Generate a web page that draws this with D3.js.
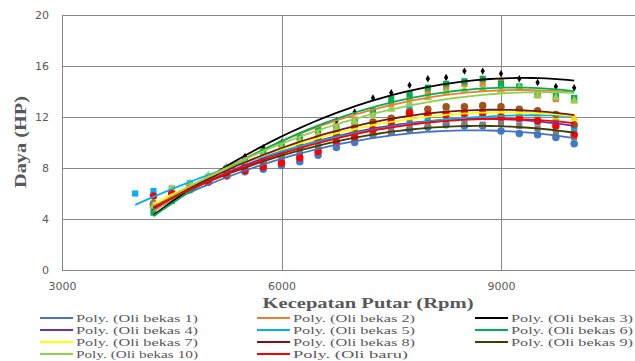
<!DOCTYPE html>
<html>
<head>
<meta charset="utf-8">
<script src="https://cdn.jsdelivr.net/npm/d3@7/dist/d3.min.js"></script>
<style>
  body { margin: 0; background: #fff; }
  svg { display: block; }
  .tick text { font-family: "DejaVu Sans", sans-serif; font-size: 11px; fill: #595959; }
</style>
</head>
<body>
<svg id="chart" width="635" height="361"></svg>
<script>
// data
const seriesNames = ["Oli bekas 1", "Oli bekas 2", "Oli bekas 3", "Oli bekas 4", "Oli bekas 5", "Oli bekas 6",
  "Oli bekas 7", "Oli bekas 8", "Oli bekas 9", "Oli bekas 10", "Oli baru"];

const rpm = [4250, 4500, 4750, 5000, 5250, 5500, 5750, 6000, 6250, 6500, 6750, 7000,
  7250, 7500, 7750, 8000, 8250, 8500, 8750, 9000, 9250, 9500, 9750, 10000];
const rpmBekas5 = [4000, 4250, 4500, 4750, 5000, 5250, 5500, 5750, 6000, 6250, 6500, 6750, 7000,
  7250, 7500, 7750, 8000, 8250, 8500, 8750, 9000, 9250, 9500, 9750, 10000];

const dayaBekas1 = [5.0, 5.6, 6.3, 6.9, 7.4, 7.7, 7.9, 8.2, 8.5, 9.0, 9.6, 10.0, 10.6, 10.8, 11.0, 11.2, 11.4, 11.3, 11.3, 10.9, 10.7, 10.6, 10.4, 9.9];
const dayaBekas2 = [5.0, 5.8, 6.6, 7.3, 8.0, 8.6, 9.2, 9.7, 10.2, 10.8, 11.3, 11.8, 12.4, 13.0, 13.5, 13.9, 14.3, 14.6, 14.6, 14.8, 14.3, 13.7, 13.4, 13.3];
const dayaBekas3 = [4.8, 5.6, 6.5, 7.3, 8.1, 8.9, 9.6, 10.0, 10.4, 11.0, 11.7, 12.4, 13.5, 13.9, 14.5, 15.0, 15.1, 15.6, 15.6, 15.4, 15.0, 14.7, 14.4, 14.3];
const dayaBekas4 = [5.0, 5.7, 6.4, 7.0, 7.6, 8.1, 8.6, 9.1, 9.6, 10.0, 10.4, 10.8, 11.1, 11.4, 11.6, 11.8, 11.9, 12.0, 12.0, 11.9, 11.8, 11.6, 11.4, 11.1];
const dayaBekas5 = [6.0, 6.2, 6.4, 6.8, 7.2, 7.6, 8.0, 8.4, 8.8, 9.2, 9.6, 10.1, 10.5, 10.9, 11.6, 12.6, 12.0, 12.6, 12.3, 12.7, 12.2, 12.2, 11.9, 11.8, 11.1];
const dayaBekas6 = [4.5, 5.4, 6.4, 7.1, 7.9, 8.6, 9.3, 9.9, 10.4, 11.0, 11.0, 11.6, 12.5, 13.4, 13.8, 14.3, 14.6, 14.8, 15.0, 14.6, 14.4, 13.8, 13.7, 13.5];
const dayaBekas7 = [5.3, 6.4, 6.7, 7.2, 7.7, 8.2, 8.7, 9.2, 9.7, 10.2, 10.6, 11.0, 11.4, 11.8, 12.1, 12.3, 12.4, 12.5, 12.5, 12.4, 12.3, 12.2, 12.0, 11.9];
const dayaBekas8 = [5.2, 6.0, 6.6, 7.1, 7.7, 8.2, 8.7, 9.2, 9.7, 10.2, 10.7, 11.2, 11.6, 11.9, 12.4, 12.6, 12.8, 12.8, 12.9, 12.8, 12.6, 12.5, 12.2, 11.4];
const dayaBekas9 = [5.2, 5.7, 6.5, 7.0, 7.5, 7.9, 8.3, 8.7, 9.1, 9.5, 9.9, 10.3, 10.6, 10.9, 11.2, 11.4, 11.6, 11.5, 11.4, 11.5, 11.3, 11.1, 10.7, 10.4];
const dayaBekas10 = [5.0, 6.3, 6.8, 7.4, 8.0, 8.5, 9.0, 9.6, 10.1, 10.6, 11.1, 11.6, 12.1, 12.6, 13.1, 13.5, 13.9, 14.1, 14.2, 14.1, 14.3, 13.7, 13.5, 13.3];
const dayaBaru = [5.8, 6.0, 6.4, 6.9, 7.4, 7.8, 8.1, 8.4, 8.8, 9.3, 10.0, 10.4, 11.0, 11.6, 12.3, 12.2, 12.2, 12.3, 12.3, 12.0, 11.9, 11.7, 11.3, 10.6];

const xTicks = [3000, 6000, 9000];
const yTicks = [0, 4, 8, 12, 16, 20];

// styles
const lineColors = ["#4472C4", "#ED7D31", "#000000", "#7030A0", "#00B0F0", "#00B050",
  "#FFFF00", "#7B1414", "#3F3F00", "#92D050", "#FF0000"];
const markerColors = ["#3E7BC4", "#ED7D31", "#000000", "#7F7F7F", "#00B0F0", "#00B050",
  "#FFD700", "#A0561A", "#7F7F7F", "#92D050", "#FF0000"];
const markerShapes = [d3.symbolCircle, d3.symbolSquare, d3.symbolDiamond, d3.symbolSquare, d3.symbolSquare,
  d3.symbolSquare, d3.symbolTriangle, d3.symbolCircle, d3.symbolSquare, d3.symbolTriangle, d3.symbolCircle];
const markerSizes = [44, 38, 16, 38, 38, 38, 32, 44, 38, 32, 44];

const xValues = [rpm, rpm, rpm, rpm, rpmBekas5, rpm, rpm, rpm, rpm, rpm, rpm];
const yValues = [dayaBekas1, dayaBekas2, dayaBekas3, dayaBekas4, dayaBekas5, dayaBekas6,
  dayaBekas7, dayaBekas8, dayaBekas9, dayaBekas10, dayaBaru];

const series = seriesNames.map((name, i) => ({
  name,
  points: xValues[i].map((x, k) => ({ x, y: yValues[i][k] })),
  lineColor: lineColors[i],
  markerColor: markerColors[i],
  shape: markerShapes[i],
  size: markerSizes[i]
}));

// least squares polynomial, like an excel "Poly." trendline
function polyFit(points, order) {
  const n = order + 1;
  const t = x => (x - 7000) / 1000;
  const A = d3.range(n).map(() => new Array(n + 1).fill(0));
  points.forEach(p => {
    const u = t(p.x);
    for (let i = 0; i < n; i++) {
      for (let j = 0; j < n; j++) A[i][j] += Math.pow(u, i + j);
      A[i][n] += p.y * Math.pow(u, i);
    }
  });
  for (let c = 0; c < n; c++) {
    let piv = c;
    for (let r = c + 1; r < n; r++) if (Math.abs(A[r][c]) > Math.abs(A[piv][c])) piv = r;
    [A[c], A[piv]] = [A[piv], A[c]];
    for (let r = 0; r < n; r++) {
      if (r === c) continue;
      const f = A[r][c] / A[c][c];
      for (let k = c; k <= n; k++) A[r][k] -= f * A[c][k];
    }
  }
  const coef = A.map((row, i) => row[n] / row[i]);
  return x => coef.reduce((s, c, i) => s + c * Math.pow(t(x), i), 0);
}

const svg = d3.select("#chart");
const plot = { left: 62, top: 15, right: 720.5, bottom: 270 };

const x = d3.scaleLinear().domain([3000, 12000]).range([plot.left, plot.right]);
const y = d3.scaleLinear().domain([0, 20]).range([plot.bottom, plot.top]);

// grid
const grid = svg.append("g").attr("stroke", "#888").attr("stroke-width", 1);
grid.selectAll("line.h")
  .data(yTicks)
  .join("line")
  .attr("x1", plot.left).attr("x2", plot.right)
  .attr("y1", d => Math.round(y(d)) + 0.5).attr("y2", d => Math.round(y(d)) + 0.5);
grid.selectAll("line.v")
  .data(xTicks)
  .join("line")
  .attr("x1", d => Math.round(x(d)) + 0.5).attr("x2", d => Math.round(x(d)) + 0.5)
  .attr("y1", plot.top).attr("y2", plot.bottom);

// axes labels
svg.append("g")
  .attr("transform", `translate(0,${plot.bottom})`)
  .call(d3.axisBottom(x).tickValues(xTicks).tickFormat(d3.format("d")).tickSize(0).tickPadding(12))
  .call(g => g.select(".domain").remove());

svg.append("g")
  .attr("transform", `translate(${plot.left},0)`)
  .call(d3.axisLeft(y).tickValues(yTicks).tickSize(0).tickPadding(13))
  .call(g => g.select(".domain").remove());

// markers
const markers = svg.append("g");
series.forEach(s => {
  markers.append("g")
    .selectAll("path")
    .data(s.points)
    .join("path")
    .attr("transform", d => `translate(${x(d.x)},${y(d.y)})`)
    .attr("d", d3.symbol().type(s.shape).size(s.size))
    .attr("fill", s.markerColor);
});

// trendlines
const line = d3.line().x(d => x(d[0])).y(d => y(d[1]));
const trends = svg.append("g").attr("fill", "none").attr("stroke-width", 1.8);
series.forEach(s => {
  const f = polyFit(s.points, 2);
  const [x0, x1] = d3.extent(s.points, d => d.x);
  const pts = d3.range(0, 61).map(k => {
    const xv = x0 + (x1 - x0) * k / 60;
    return [xv, f(xv)];
  });
  trends.append("path").attr("d", line(pts)).attr("stroke", s.lineColor);
});

// axis titles
svg.append("text")
  .attr("x", 368).attr("y", 308)
  .attr("text-anchor", "middle")
  .attr("font-family", "'Liberation Serif', serif")
  .attr("font-weight", "bold")
  .attr("font-size", 15)
  .attr("fill", "#595959")
  .attr("textLength", 211).attr("lengthAdjust", "spacingAndGlyphs")
  .text("Kecepatan Putar (Rpm)");

svg.append("text")
  .attr("transform", "translate(26,142) rotate(-90)")
  .attr("text-anchor", "middle")
  .attr("font-family", "'Liberation Serif', serif")
  .attr("font-weight", "bold")
  .attr("font-size", 16)
  .attr("fill", "#595959")
  .attr("textLength", 92).attr("lengthAdjust", "spacingAndGlyphs")
  .text("Daya (HP)");

// legend
const legendCols = [40, 257, 475];
const legendRows = [318, 330, 342, 354];
const legend = svg.append("g")
  .selectAll("g")
  .data(series)
  .join("g")
  .attr("transform", (d, i) => `translate(${legendCols[i % 3]},${legendRows[Math.floor(i / 3)]})`);
legend.append("line")
  .attr("x1", 0).attr("x2", 33).attr("y1", 0).attr("y2", 0)
  .attr("stroke", d => d.lineColor).attr("stroke-width", 2);
legend.append("text")
  .attr("x", 36).attr("y", 4)
  .attr("font-family", "'Liberation Serif', serif")
  .attr("font-size", 10.5)
  .attr("fill", "#595959")
  .attr("textLength", d => d.name.length > 10 ? 122 : 115)
  .attr("lengthAdjust", "spacingAndGlyphs")
  .text(d => `Poly. (${d.name})`);
</script>
</body>
</html>
